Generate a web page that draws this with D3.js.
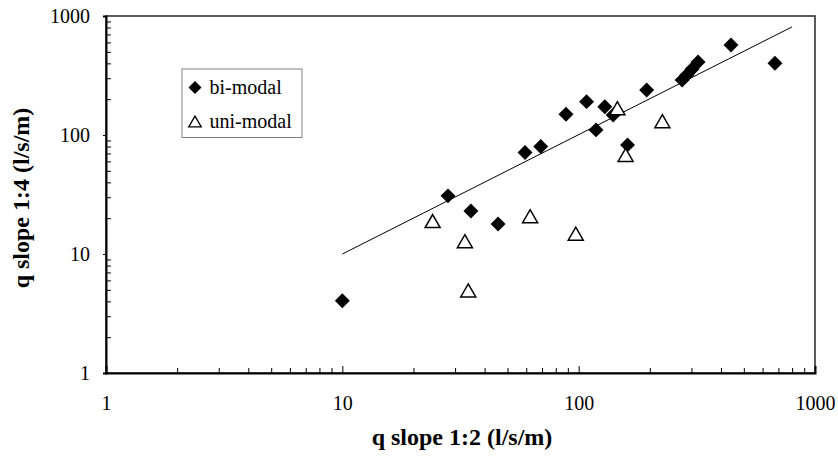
<!DOCTYPE html>
<html>
<head>
<meta charset="utf-8">
<script src="https://cdn.jsdelivr.net/npm/d3@7/dist/d3.min.js"></script>
<style>
  html, body { margin: 0; padding: 0; background: #fff; }
  svg { display: block; }
</style>
</head>
<body>
<svg id="chart" width="838" height="462" font-family="Liberation Serif"></svg>
<script>
// Discharge on slope 1:2 (x) against slope 1:4 (y), l/s/m
const biModalX = [10, 28, 35, 45.6, 59.3, 69.1, 88.4, 108, 118.4, 129, 140, 161, 194, 274, 287, 302, 320, 441, 677];
const biModalY = [4.05, 30.8, 23, 17.9, 71.2, 80, 149.6, 190.7, 110.4, 173, 147.5, 82.6, 239, 290, 320, 359, 411, 571, 401];

const uniModalX = [24.1, 33.0, 34.1, 62.3, 97.2, 145.8, 158, 226];
const uniModalY = [18.9, 12.8, 4.94, 20.8, 14.8, 168, 68, 130.6];

// Trend line (approximately q1:4 = q1:2)
const trendX = [10, 800];
const trendY = [10, 810];

const majorTicks = [1, 10, 100, 1000];
const seriesNames = ["bi-modal", "uni-modal"];
const xTitle = "q slope 1:2 (l/s/m)";
const yTitle = "q slope 1:4 (l/s/m)";

const FONT = "Liberation Serif";
const svg = d3.select("#chart");
const plotL = 106, plotR = 815, plotT = 16, plotB = 373;

const x = d3.scaleLog().domain([1, 1000]).range([plotL, plotR]);
const y = d3.scaleLog().domain([1, 1000]).range([plotB, plotT]);

// minor ticks: 2..9 within each decade
const minorTicks = [];
for (let d = 1; d < 1000; d *= 10) for (let k = 2; k <= 9; k++) minorTicks.push(d * k);

// plot frame
svg.append("rect")
  .attr("x", plotL).attr("y", plotT)
  .attr("width", plotR - plotL).attr("height", plotB - plotT)
  .attr("fill", "none").attr("stroke", "#333").attr("stroke-width", 1.6);

// x axis
const gx = svg.append("g").attr("transform", `translate(0,${plotB})`);
gx.append("g")
  .call(d3.axisBottom(x).tickValues(minorTicks).tickSize(-5).tickFormat(""))
  .call(g => g.select(".domain").remove());
gx.append("g")
  .call(d3.axisBottom(x).tickValues(majorTicks).tickSize(-7).tickPadding(0).tickFormat(d3.format("d")))
  .call(g => g.attr("font-family", FONT).attr("font-size", 20))
  .call(g => g.select(".domain").attr("stroke-width", 2))
  .call(g => g.selectAll("text")
    .attr("y", 37).attr("dy", 0).attr("fill", "#000"));
gx.selectAll("line").attr("stroke", "#000").attr("stroke-width", 1);

// y axis
const gy = svg.append("g").attr("transform", `translate(${plotL},0)`);
gy.append("g")
  .call(d3.axisLeft(y).tickValues(minorTicks).tickSize(-5).tickFormat(""))
  .call(g => g.select(".domain").remove());
gy.append("g")
  .call(d3.axisLeft(y).tickValues(majorTicks).tickSize(3).tickPadding(0).tickFormat(d3.format("d")))
  .call(g => g.attr("font-family", FONT).attr("font-size", 20))
  .call(g => g.select(".domain").attr("stroke-width", 2))
  .call(g => g.selectAll("text")
    .attr("x", -16).attr("dy", "0.33em").attr("fill", "#000"));
gy.selectAll("line").attr("stroke", "#000").attr("stroke-width", 1);

// axis titles
svg.append("text")
  .attr("x", 462).attr("y", 445)
  .attr("text-anchor", "middle")
  .attr("font-family", FONT)
  .attr("font-weight", "bold").attr("font-size", 24)
  .text(xTitle);
svg.append("text")
  .attr("transform", "translate(29,198) rotate(-90)")
  .attr("text-anchor", "middle")
  .attr("font-family", FONT)
  .attr("font-weight", "bold").attr("font-size", 24)
  .text(yTitle);

// trend line
const line = d3.line().x(d => x(d[0])).y(d => y(d[1]));
svg.append("path")
  .datum(d3.zip(trendX, trendY))
  .attr("d", line)
  .attr("fill", "none").attr("stroke", "#000").attr("stroke-width", 1);

// markers
const diamond = d3.symbol().type(d3.symbolSquare).size(112);
const triangle = (cx, cy, s) => {
  const h = s * Math.sqrt(3) / 2;
  return `M${cx},${cy - h / 2}L${cx + s / 2},${cy + h / 2}L${cx - s / 2},${cy + h / 2}Z`;
};

// bi-modal diamonds first, uni-modal triangles drawn over them
svg.append("g").selectAll("path")
  .data(d3.zip(biModalX, biModalY))
  .join("path")
  .attr("transform", d => `translate(${x(d[0])},${y(d[1])}) rotate(45)`)
  .attr("d", diamond)
  .attr("fill", "#000");

svg.append("g").selectAll("path")
  .data(d3.zip(uniModalX, uniModalY))
  .join("path")
  .attr("d", d => triangle(x(d[0]), y(d[1]), 15))
  .attr("fill", "#fff").attr("stroke", "#000").attr("stroke-width", 1.5)
  .attr("stroke-linejoin", "miter");

// legend
const lg = svg.append("g");
lg.append("rect")
  .attr("x", 182).attr("y", 69).attr("width", 120).attr("height", 68.5)
  .attr("fill", "#fff").attr("stroke", "#808080").attr("stroke-width", 1);
lg.append("path")
  .attr("transform", "translate(195,87.5) rotate(45)")
  .attr("d", d3.symbol().type(d3.symbolSquare).size(84))
  .attr("fill", "#000");
lg.append("path")
  .attr("d", triangle(195, 121.5, 12.5))
  .attr("fill", "#fff").attr("stroke", "#000").attr("stroke-width", 1.3);
lg.selectAll("text")
  .data(seriesNames)
  .join("text")
  .attr("x", 209.5)
  .attr("y", (d, i) => 94 + i * 34)
  .attr("font-family", FONT)
  .attr("font-size", 20)
  .text(d => d);
</script>
</body>
</html>
